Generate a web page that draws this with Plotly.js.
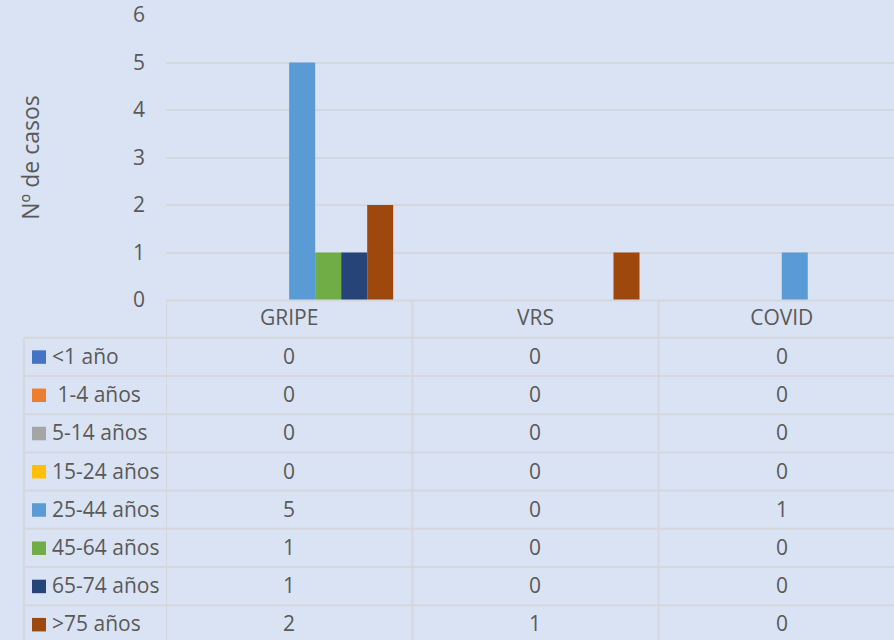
<!DOCTYPE html>
<html>
<head>
<meta charset="utf-8">
<script src="https://cdn.plot.ly/plotly-3.0.1.min.js"></script>
<style>html,body{margin:0;padding:0;background:#dae3f3;}#chart{width:894px;height:640px;}</style>
</head>
<body>
<div id="chart"></div>
<script>
// ---- data ----
const categories = ["GRIPE", "VRS", "COVID"];
const seriesNames = ["<1 año", " 1-4 años", "5-14 años", "15-24 años", "25-44 años", "45-64 años", "65-74 años", ">75 años"];
const lt1 = [0, 0, 0];
const a1_4 = [0, 0, 0];
const a5_14 = [0, 0, 0];
const a15_24 = [0, 0, 0];
const a25_44 = [5, 0, 1];
const a45_64 = [1, 0, 0];
const a65_74 = [1, 0, 0];
const gt75 = [2, 1, 0];
const yTicks = [0, 1, 2, 3, 4, 5, 6];
const yTitle = "Nº de casos";

const seriesValues = [lt1, a1_4, a5_14, a15_24, a25_44, a45_64, a65_74, gt75];
const colors = ["#4472C4", "#ED7D31", "#A5A5A5", "#FFC000", "#5B9BD5", "#70AD47", "#264478", "#9E480E"];

// ---- layout geometry (pixels) ----
const W = 894, H = 640;
const L = 166, T = 15, PLOT_BOTTOM = 300;
const plotW = W - L, plotH = PLOT_BOTTOM - T;
const colW = 246.3;
const xMax = -0.5 + plotW / colW;
const py = p => (PLOT_BOTTOM - p) / plotH;   // pixel y -> paper y
const px = p => (p - L) / plotW;            // pixel x -> paper x
const textColor = "#595959";
const lineColor = "#d4d8de";
const FONT = "Open Sans, sans-serif";
const FS = 21;

const headerTop = 300.5, firstLine = 337.7, rowH = 38.23;
const tableLeft = 24;

const traces = seriesValues.map((vals, i) => ({
  type: "bar",
  name: seriesNames[i],
  x: categories,
  y: vals,
  marker: {color: colors[i], line: {width: 0}},
  hoverinfo: "x+y+name"
}));

const shapes = [];
const annotations = [];
// header top line (axis line)
shapes.push({type: "line", xref: "paper", yref: "paper", x0: 0, x1: 1, y0: py(headerTop), y1: py(headerTop), line: {color: lineColor, width: 2}});
// horizontal row lines
for (let k = 0; k <= seriesNames.length; k++) {
  const yy = firstLine + k * rowH;
  shapes.push({type: "line", xref: "paper", yref: "paper", x0: px(tableLeft), x1: 1, y0: py(yy), y1: py(yy), line: {color: lineColor, width: 2}});
}
const bottomY = firstLine + seriesNames.length * rowH;
// vertical lines at category boundaries
for (let c = 0; c < categories.length; c++) {
  shapes.push({type: "line", xref: "x", yref: "paper", x0: c - 0.5, x1: c - 0.5, y0: py(headerTop), y1: py(bottomY), line: {color: lineColor, width: 2}});
}
// left edge of legend column
shapes.push({type: "line", xref: "paper", yref: "paper", x0: px(tableLeft), x1: px(tableLeft), y0: py(firstLine), y1: py(bottomY), line: {color: lineColor, width: 2}});

// legend keys, labels and values
seriesNames.forEach((name, i) => {
  const cy = firstLine + (i + 0.5) * rowH;
  shapes.push({type: "rect", xref: "paper", yref: "paper", x0: px(32), x1: px(46), y0: py(cy - 6.5), y1: py(cy + 7), fillcolor: colors[i], line: {width: 0}});
  annotations.push({xref: "paper", yref: "paper", x: px(50), y: py(cy - 1), xanchor: "left", yanchor: "middle", text: name.replace(/^ /, "&nbsp;"), showarrow: false, font: {family: FONT, size: FS, color: textColor}});
  categories.forEach((cat, c) => {
    annotations.push({xref: "x", yref: "paper", x: c, y: py(cy - 1), xanchor: "center", yanchor: "middle", text: String(seriesValues[i][c]), showarrow: false, font: {family: FONT, size: FS, color: textColor}});
  });
});

const layout = {
  width: W, height: H,
  margin: {l: L, r: 0, t: T, b: H - PLOT_BOTTOM, pad: 0},
  paper_bgcolor: "#dae3f3",
  plot_bgcolor: "#dae3f3",
  barmode: "group",
  bargap: 0.155,
  bargroupgap: 0,
  showlegend: false,
  font: {family: FONT, size: FS, color: textColor},
  xaxis: {
    type: "category",
    range: [-0.5, xMax],
    showgrid: false, zeroline: false, showline: false,
    ticks: "", ticklabelstandoff: 3,
    tickfont: {family: FONT, size: FS, color: textColor},
    fixedrange: true
  },
  yaxis: {
    range: [0, 6],
    tickvals: yTicks,
    ticktext: yTicks.map(String),
    showgrid: true, gridcolor: lineColor, gridwidth: 2,
    zeroline: false, showline: false,
    ticks: "", ticklabelstandoff: 20,
    tickfont: {family: FONT, size: FS, color: textColor},
    title: {text: yTitle, font: {family: FONT, size: 23, color: textColor}, standoff: 86},
    automargin: false,
    fixedrange: true
  },
  shapes: shapes,
  annotations: annotations
};

Plotly.newPlot("chart", traces, layout, {displayModeBar: false, staticPlot: true});
</script>
</body>
</html>
